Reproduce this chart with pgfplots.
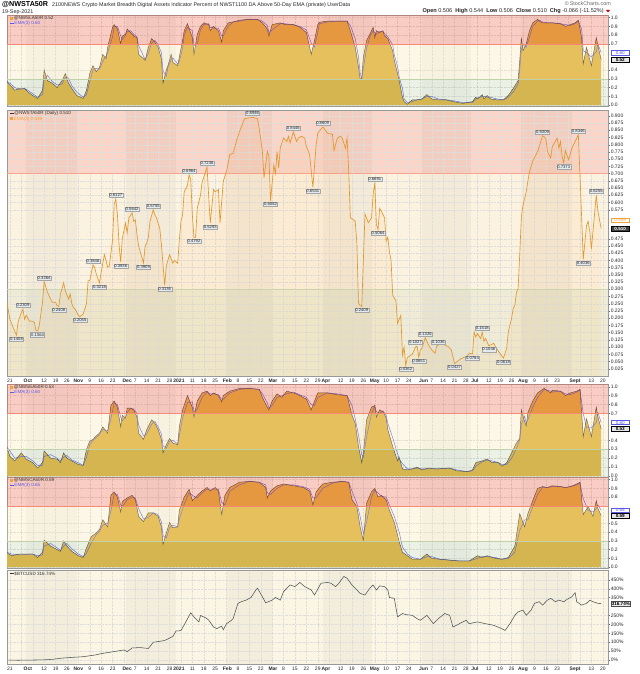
\documentclass[border=0pt]{standalone}
\usepackage{fontspec}
\setmainfont{Liberation Sans}
\usepackage{pgfplots}
\usepackage{pgfplotstable}
\pgfplotsset{compat=1.18}

\definecolor{areagold}{HTML}{E2B342}
\definecolor{emablue}{HTML}{5A5AE6}
\definecolor{linedark}{HTML}{3A3A3A}
\definecolor{zred}{HTML}{F05A3C}
\definecolor{zcream}{HTML}{F7E2A8}
\definecolor{zgreen}{HTML}{A6BE86}
\definecolor{ptop}{HTML}{FAD5C8}
\definecolor{pmid}{HTML}{FCF2E0}
\definecolor{pbot}{HTML}{EFEBD4}
\definecolor{nwsline}{HTML}{E3962C}
\definecolor{emaorange}{HTML}{F2A23A}
\definecolor{lblfill}{HTML}{E4EBEE}
\definecolor{btcbg}{HTML}{FBF5E4}
\definecolor{btcline}{HTML}{4E5552}

% ---------------- data ----------------
\pgfplotstableread{
d v e
-2 0.265 0.27
0 0.23 0.25
3 0.17 0.20
6 0.19 0.18
9 0.19 0.19
11 0.15 0.17
14 0.11 0.13
17 0.076 0.09
20 0.17 0.12
21 0.40 0.29
23 0.28 0.34
26 0.25 0.27
29 0.20 0.23
32 0.28 0.24
34 0.36 0.32
36 0.25 0.31
38 0.19 0.22
41 0.11 0.15
45 0.076 0.09
47 0.17 0.12
49 0.36 0.27
51 0.45 0.40
53 0.38 0.42
55 0.43 0.41
57 0.58 0.50
59 0.53 0.56
60 0.66 0.60
63 0.89 0.78
64 0.92 0.90
66 0.87 0.90
68 0.70 0.79
69 0.79 0.75
71 0.81 0.80
72 0.87 0.84
74 0.83 0.85
76 0.79 0.81
78 0.77 0.78
79 0.58 0.68
82 0.53 0.56
83 0.51 0.52
85 0.66 0.59
87 0.76 0.71
89 0.72 0.74
91 0.66 0.69
93 0.53 0.60
94 0.25 0.39
96 0.40 0.33
97 0.45 0.43
99 0.58 0.52
100 0.49 0.54
103 0.45 0.47
104 0.55 0.50
106 0.74 0.65
107 0.85 0.80
109 0.93 0.89
112 0.77 0.85
113 0.58 0.68
115 0.81 0.70
117 0.90 0.86
119 0.94 0.92
122 0.92 0.93
123 0.85 0.89
125 0.90 0.88
128 0.85 0.88
130 0.72 0.79
131 0.85 0.79
134 0.94 0.90
137 0.95 0.95
141 0.97 0.96
146 0.98 0.98
152 0.98 0.98
155 0.94 0.96
158 0.87 0.91
159 0.79 0.83
161 0.92 0.86
166 0.94 0.93
169 0.92 0.93
174 0.92 0.92
178 0.89 0.90
182 0.83 0.86
185 0.58 0.71
187 0.74 0.66
189 0.92 0.83
190 0.947 0.93
195 0.96 0.95
201 0.96 0.96
207 0.96 0.96
209 0.85 0.91
212 0.66 0.76
214 0.44 0.55
215 0.30 0.37
216 0.30 0.30
217 0.55 0.42
219 0.74 0.65
221 0.81 0.78
223 0.89 0.85
224 0.77 0.83
225 0.85 0.81
227 0.83 0.84
229 0.85 0.84
230 0.79 0.82
232 0.76 0.78
235 0.62 0.69
236 0.51 0.57
238 0.36 0.44
239 0.28 0.32
241 0.09 0.19
242 0.04 0.07
244 0.01 0.03
247 0.06 0.04
250 0.06 0.06
253 0.07 0.07
256 0.12 0.10
259 0.07 0.10
263 0.06 0.07
268 0.06 0.06
272 0.04 0.05
278 0.02 0.03
284 0.04 0.03
286 0.09 0.07
287 0.07 0.08
290 0.12 0.10
291 0.07 0.10
293 0.11 0.09
295 0.07 0.09
299 0.06 0.07
303 0.06 0.06
306 0.11 0.09
309 0.19 0.15
312 0.28 0.24
313 0.51 0.40
314 0.77 0.64
315 0.62 0.69
317 0.70 0.66
319 0.85 0.78
321 0.94 0.90
324 0.98 0.96
325 0.96 0.97
327 0.94 0.95
330 0.94 0.94
333 0.94 0.94
338 0.93 0.93
341 0.90 0.92
344 0.92 0.91
347 0.94 0.93
349 0.97 0.96
351 0.77 0.87
352 0.47 0.62
354 0.66 0.60
357 0.45 0.55
360 0.77 0.61
361 0.68 0.70
363 0.52 0.60
}\tabA

\pgfplotstableread{
d v
-2 0.26
0 0.196
2 0.168
4 0.1408
5 0.186
7 0.22
8 0.2309
9 0.196
10 0.21
12 0.19
13 0.19
15 0.186
16 0.157
17 0.1564
18 0.174
20 0.255
21 0.3264
23 0.29
25 0.266
26 0.255
28 0.255
29 0.243
30 0.2408
31 0.283
33 0.323
34 0.295
36 0.266
37 0.283
38 0.25
39 0.237
40 0.232
42 0.21
43 0.2055
45 0.215
47 0.25
48 0.33
49 0.33
51 0.3846
52 0.376
53 0.353
55 0.3218
56 0.359
58 0.42
59 0.40
60 0.376
61 0.38
63 0.47
64 0.593
65 0.6127
66 0.557
67 0.455
68 0.3936
69 0.477
71 0.529
72 0.495
73 0.547
75 0.5642
76 0.535
77 0.54
78 0.49
79 0.45
80 0.43
82 0.3909
83 0.45
84 0.46
85 0.48
86 0.535
88 0.5755
89 0.557
90 0.547
92 0.51
93 0.455
95 0.3136
96 0.38
98 0.42
100 0.39
101 0.40
103 0.39
104 0.47
105 0.535
106 0.557
107 0.637
109 0.66
110 0.6964
111 0.68
112 0.557
113 0.4792
114 0.48
115 0.58
117 0.625
118 0.67
121 0.7236
122 0.625
123 0.5293
125 0.645
126 0.637
128 0.645
129 0.53
131 0.674
133 0.708
135 0.766
137 0.77
139 0.811
141 0.846
144 0.89
149 0.8946
152 0.89
153 0.858
155 0.777
156 0.685
158 0.777
159 0.76
160 0.6062
162 0.73
163 0.70
164 0.777
165 0.72
166 0.79
168 0.823
170 0.811
171 0.829
172 0.806
174 0.8446
176 0.811
177 0.823
179 0.829
181 0.823
182 0.794
184 0.766
186 0.6531
188 0.80
189 0.84
192 0.8609
193 0.855
195 0.84
198 0.836
199 0.78
201 0.823
203 0.829
204 0.823
206 0.788
207 0.823
208 0.708
209 0.547
211 0.54
212 0.535
213 0.46
214 0.254
215 0.243
216 0.2409
217 0.40
218 0.56
220 0.53
222 0.547
223 0.628
224 0.6691
225 0.524
226 0.5064
227 0.58
228 0.57
230 0.547
231 0.466
232 0.48
233 0.43
234 0.40
235 0.28
237 0.26
238 0.182
240 0.21
241 0.072
242 0.10
243 0.0362
244 0.064
247 0.075
249 0.10
250 0.1027
251 0.0651
252 0.09
253 0.096
255 0.1326
257 0.107
259 0.09
261 0.079
262 0.1036
263 0.107
266 0.113
267 0.107
269 0.102
271 0.09
273 0.0427
275 0.052
277 0.06
281 0.07
282 0.079
284 0.0764
285 0.153
286 0.135
287 0.147
289 0.13
290 0.1518
291 0.12
292 0.13
294 0.1046
295 0.107
297 0.113
298 0.102
300 0.085
303 0.0618
305 0.096
306 0.153
308 0.20
309 0.234
310 0.245
311 0.29
312 0.302
313 0.42
314 0.55
315 0.59
317 0.637
318 0.674
319 0.708
321 0.743
324 0.777
325 0.794
327 0.8309
329 0.823
330 0.777
332 0.754
333 0.794
336 0.823
337 0.788
338 0.811
339 0.76
340 0.7373
341 0.78
343 0.748
345 0.788
346 0.80
348 0.823
349 0.8346
351 0.55
352 0.4036
354 0.52
355 0.535
356 0.50
357 0.44
360 0.6255
361 0.57
363 0.510
}\tabB

\pgfplotstableread{
d v e
-2 0.33 0.33
0 0.22 0.28
3 0.17 0.20
7 0.26 0.22
10 0.19 0.22
14 0.15 0.17
17 0.09 0.12
20 0.15 0.12
21 0.28 0.22
25 0.20 0.24
29 0.19 0.20
31 0.15 0.17
33 0.26 0.21
35 0.20 0.23
38 0.17 0.18
42 0.13 0.15
45 0.12 0.12
47 0.30 0.21
49 0.39 0.35
51 0.41 0.40
53 0.45 0.43
55 0.48 0.47
57 0.55 0.52
60 0.48 0.51
62 0.79 0.64
64 0.84 0.82
66 0.77 0.80
68 0.55 0.66
69 0.68 0.62
71 0.65 0.66
72 0.76 0.71
74 0.76 0.76
76 0.74 0.75
78 0.66 0.70
79 0.48 0.57
82 0.41 0.45
84 0.52 0.47
87 0.63 0.58
89 0.59 0.61
91 0.52 0.55
93 0.41 0.47
94 0.26 0.34
96 0.35 0.31
98 0.42 0.39
100 0.37 0.40
103 0.35 0.36
104 0.55 0.45
106 0.74 0.65
109 0.90 0.82
112 0.77 0.83
113 0.66 0.72
115 0.84 0.75
118 0.93 0.88
121 0.95 0.94
123 0.90 0.92
125 0.93 0.92
128 0.90 0.91
130 0.83 0.86
131 0.90 0.86
135 0.95 0.93
141 0.98 0.97
147 0.98 0.98
153 0.97 0.97
155 0.88 0.92
158 0.77 0.82
159 0.74 0.76
161 0.84 0.79
164 0.92 0.88
167 0.88 0.90
170 0.95 0.92
174 0.93 0.94
178 0.90 0.91
182 0.86 0.88
185 0.74 0.80
187 0.84 0.79
189 0.93 0.88
195 0.93 0.93
201 0.91 0.92
207 0.90 0.90
210 0.68 0.79
212 0.59 0.64
214 0.33 0.46
216 0.15 0.24
217 0.26 0.21
219 0.63 0.44
222 0.77 0.70
224 0.79 0.78
225 0.66 0.72
227 0.74 0.70
229 0.72 0.73
231 0.65 0.68
232 0.52 0.59
235 0.33 0.43
238 0.17 0.25
239 0.21 0.19
241 0.08 0.14
244 0.07 0.08
247 0.08 0.08
250 0.10 0.09
253 0.07 0.08
257 0.09 0.08
262 0.08 0.08
270 0.09 0.09
274 0.06 0.07
281 0.05 0.05
284 0.07 0.06
286 0.15 0.11
290 0.17 0.16
293 0.19 0.18
296 0.15 0.17
300 0.15 0.15
302 0.11 0.13
305 0.15 0.13
308 0.26 0.20
311 0.37 0.31
313 0.42 0.40
314 0.74 0.58
316 0.61 0.67
317 0.56 0.59
318 0.71 0.63
321 0.84 0.77
324 0.93 0.88
327 0.97 0.95
328 0.98 0.97
332 0.93 0.95
333 0.96 0.94
338 0.95 0.95
341 0.90 0.92
344 0.93 0.91
348 0.95 0.94
350 0.97 0.96
352 0.44 0.70
354 0.64 0.54
357 0.44 0.54
360 0.77 0.60
361 0.66 0.71
363 0.53 0.60
}\tabC

\pgfplotstableread{
d v e
-2 0.165 0.17
1 0.13 0.15
6 0.15 0.14
14 0.15 0.15
17 0.11 0.13
20 0.17 0.14
21 0.31 0.24
25 0.24 0.27
29 0.20 0.22
31 0.18 0.19
33 0.30 0.24
35 0.24 0.27
38 0.18 0.21
42 0.13 0.15
45 0.11 0.12
47 0.22 0.16
50 0.35 0.28
53 0.39 0.37
55 0.43 0.41
57 0.54 0.48
60 0.46 0.50
62 0.82 0.64
64 0.86 0.84
66 0.80 0.83
68 0.63 0.71
69 0.75 0.69
72 0.79 0.77
75 0.82 0.80
77 0.77 0.79
79 0.58 0.67
82 0.52 0.55
85 0.62 0.57
88 0.62 0.62
91 0.58 0.60
93 0.46 0.52
94 0.26 0.36
96 0.39 0.33
98 0.51 0.45
100 0.45 0.48
103 0.46 0.46
104 0.65 0.55
107 0.80 0.72
110 0.89 0.85
112 0.76 0.82
115 0.82 0.79
118 0.87 0.85
121 0.91 0.89
123 0.87 0.89
126 0.91 0.89
128 0.87 0.89
130 0.60 0.74
132 0.82 0.71
135 0.91 0.87
141 0.97 0.94
147 0.98 0.98
153 0.97 0.97
157 0.91 0.94
158 0.79 0.85
160 0.87 0.83
164 0.93 0.90
168 0.95 0.94
174 0.93 0.94
180 0.91 0.92
184 0.87 0.89
186 0.71 0.79
188 0.86 0.79
192 0.95 0.90
198 0.97 0.96
204 0.98 0.98
208 0.97 0.97
210 0.77 0.87
213 0.69 0.73
215 0.46 0.58
217 0.30 0.38
219 0.73 0.52
222 0.86 0.80
224 0.90 0.88
226 0.80 0.85
228 0.82 0.81
231 0.77 0.80
233 0.65 0.71
236 0.51 0.58
239 0.29 0.40
241 0.17 0.23
244 0.13 0.15
247 0.09 0.11
252 0.09 0.09
256 0.15 0.12
259 0.10 0.12
264 0.09 0.09
270 0.08 0.08
276 0.07 0.07
282 0.07 0.07
287 0.13 0.10
290 0.11 0.12
293 0.13 0.12
298 0.10 0.11
302 0.09 0.09
306 0.11 0.10
310 0.24 0.17
313 0.61 0.42
316 0.46 0.54
318 0.61 0.54
321 0.76 0.69
324 0.90 0.83
327 0.92 0.91
330 0.91 0.91
333 0.93 0.92
338 0.92 0.92
341 0.91 0.91
344 0.92 0.92
348 0.95 0.94
350 0.97 0.96
352 0.60 0.78
355 0.69 0.65
358 0.58 0.63
360 0.76 0.67
361 0.67 0.71
363 0.59 0.65
}\tabD

\pgfplotstableread{
d v
-1 0
5 -1
12 0
20 1
26 4
32 11
38 15
45 19
52 28
56 36
60 42
65 49
70 57
72 47
75 68
80 70
85 65
88 100
92 105
95 110
100 132
102 163
105 165
108 214
111 265
113 242
116 214
117 250
120 238
122 225
125 185
127 176
130 190
131 170
133 204
136 223
137 232
140 318
142 327
145 336
148 351
151 393
152 403
155 355
157 321
161 336
163 351
166 336
168 384
172 421
175 412
178 435
181 412
185 393
187 365
191 431
195 435
197 431
200 412
202 431
205 469
207 459
210 421
212 403
215 374
218 365
221 403
223 421
225 393
227 416
230 412
232 393
233 351
236 346
238 242
241 261
243 255
247 251
250 232
252 223
256 251
260 204
263 232
267 261
270 251
272 185
276 204
280 223
282 204
287 214
292 204
297 195
302 176
304 166
307 204
310 251
312 270
315 280
317 251
320 280
322 318
325 327
327 308
330 336
332 346
335 327
337 336
340 327
342 340
345 355
347 378
348 327
351 308
354 318
356 336
358 327
361 318
363 316.74
}\tabE

\tikzset{
  lblbase/.style={draw=black!35, fill=lblfill, inner sep=0.6bp, line width=0.25pt,
     font=\fontsize{4.2}{4.2}\selectfont, text=black!85},
  lblup/.style={lblbase, anchor=south, yshift=1.6bp},
  lbldn/.style={lblbase, anchor=north, yshift=-1.6bp},
  tag/.style={anchor=west, xshift=3bp, inner sep=0.6bp, line width=0.4pt,
     font=\fontsize{4.6}{4.6}\selectfont, minimum width=18bp},
  lgd/.style={anchor=north west, inner sep=0pt, font=\fontsize{4.6}{5.5}\selectfont, align=left},
}

\pgfplotsset{
 panelbase/.style={
  scale only axis, width=601bp, anchor=south west, set layers,
  xmin=-1.8, xmax=367.2,
  xtick={0,7,...,364}, xticklabels={},
  xtick style={draw=none},
  xmajorgrids, ymajorgrids,
  grid style={densely dotted, black!13, line width=0.25pt},
  axis line style={black!40, line width=0.4pt},
  ytick pos=right, yticklabel pos=right,
  ytick style={black!60, line width=0.3pt},
  tick align=outside, major tick length=1.8bp,
  ticklabel style={font=\fontsize{5}{5}\selectfont, text=black!85},
  yticklabel style={inner sep=0.8bp},
  /pgf/number format/assume math mode=true,
  clip mode=individual,
 },
 datelabels/.style={
  xticklabels={21,,,12,19,26,,9,16,23,,7,14,21,28,,11,18,25,,8,15,22,,8,15,22,29,,12,19,26,,10,17,24,,7,14,21,28,,12,19,26,,9,16,23,,,13,20},
  xticklabel style={inner sep=0.6bp},
  extra x ticks={11,42,72,103.8,133.5,161.5,194,224,254,285.5,315,347},
  extra x tick labels={Oct,Nov,Dec,2021,Feb,Mar,Apr,May,Jun,Jul,Aug,Sept},
  extra x tick style={grid=none, xticklabel style={font=\fontsize{5}{5}\selectfont\bfseries}},
 },
}

\newcommand\monthbands[3]{%
  \fill[black, opacity=#3] (axis cs:10,#1) rectangle (axis cs:41,#2);
  \fill[black, opacity=#3] (axis cs:71,#1) rectangle (axis cs:102,#2);
  \fill[black, opacity=#3] (axis cs:133,#1) rectangle (axis cs:161,#2);
  \fill[black, opacity=#3] (axis cs:192,#1) rectangle (axis cs:222,#2);
  \fill[black, opacity=#3] (axis cs:253,#1) rectangle (axis cs:283,#2);
  \fill[black, opacity=#3] (axis cs:314,#1) rectangle (axis cs:345,#2);
}

% #1 bottom, #2 height, #3 table, #4 name, #5 last value, #6 last ema, #7 yticks
\newcommand\areapanel[7]{%
\begin{axis}[panelbase, at={(7bp,#1bp)}, height=#2bp, ymin=-0.01, ymax=1.03,
   ytick={#7},
   yticklabel style={/pgf/number format/.cd,fixed,fixed zerofill,precision=1}]
  \begin{pgfonlayer}{axis background}
    \monthbands{-0.01}{1.03}{0.035}
  \end{pgfonlayer}
  \addplot[draw=none, fill=areagold] table[x=d,y=v]{#3} \closedcycle;
  \addplot[emablue, line width=0.5pt] table[x=d,y=e]{#3};
  \addplot[linedark, line width=0.45pt] table[x=d,y=v]{#3};
  \fill[zred, opacity=0.30] (axis cs:-1.8,0.7) rectangle (axis cs:367.2,1.03);
  \fill[zcream, opacity=0.28] (axis cs:-1.8,0.3) rectangle (axis cs:367.2,0.7);
  \fill[zgreen, opacity=0.22] (axis cs:-1.8,-0.01) rectangle (axis cs:367.2,0.3);
  \draw[zred!70, line width=0.4pt] (axis cs:-1.8,0.7) -- (axis cs:367.2,0.7);
  \draw[zgreen!70, line width=0.3pt] (axis cs:-1.8,0.3) -- (axis cs:367.2,0.3);
  \node[lgd] at (rel axis cs:0,1) [xshift=3bp, yshift=-1bp]
    {\textcolor{emaorange}{\rule{3bp}{3bp}}\,\textcolor{black!80}{@#4 #5}\\
     \textcolor{emablue}{\rule[1bp]{3.5bp}{0.8bp}\,EMA(3) #6}};
  \node[tag, draw=emablue, fill=white, text=emablue] at (axis cs:367.2,#6) {#6};
  \node[tag, draw=black, fill=black!10, text=black, font=\fontsize{4.6}{4.6}\selectfont\bfseries] at (axis cs:367.2,#5) {#5};
\end{axis}}

\begin{document}
\begin{tikzpicture}[x=1bp, y=1bp]

% ---------- header ----------
\node[anchor=base west, inner sep=0pt, font=\fontsize{7.2}{7.2}\selectfont\bfseries] at (2,667)
  {@NWSTA50R};
\node[anchor=base west, inner sep=0pt, font=\fontsize{5.4}{5.4}\selectfont, text=black!85] at (52,667)
  {2100NEWS Crypto Market Breadth Digital Assets Indicator Percent of NWST1100 DA Above 50-Day EMA (private) UserData};
\node[anchor=base west, inner sep=0pt, font=\fontsize{5.4}{5.4}\selectfont, text=black!85] at (2,660.5)
  {19-Sep-2021};
\node[anchor=base east, inner sep=0pt, font=\fontsize{5.4}{5.4}\selectfont, text=black!60] at (611,668)
  {\textcopyright\,StockCharts.com};
\node[anchor=base east, inner sep=0pt, font=\fontsize{5.6}{5.6}\selectfont, text=black!85] at (604,661)
  {\textbf{Open} 0.506 \ \textbf{High} 0.544 \ \textbf{Low} 0.506 \ \textbf{Close} 0.510 \ \textbf{Chg} -0.066 (-11.52\%)};
\fill[red!80!black] (606,664) -- (610,664) -- (608,661.5) -- cycle;

% ---------- panel 1 ----------
\areapanel{568}{91}{\tabA}{NWSLA50R}{0.52}{0.60}{0,0.1,0.2,0.3,0.4,0.7,0.8,0.9,1.0}

% ---------- panel 2 ----------
\begin{axis}[panelbase, datelabels, at={(7bp,298bp)}, height=266bp, ymin=0, ymax=0.92,
  ytick={0.025,0.05,0.075,0.1,0.125,0.15,0.175,0.2,0.225,0.25,0.275,0.3,0.325,0.35,0.375,0.4,0.425,0.45,0.475,0.575,0.6,0.625,0.65,0.675,0.7,0.725,0.75,0.775,0.8,0.825,0.85,0.875,0.9},
  yticklabel style={/pgf/number format/.cd,fixed,fixed zerofill,precision=3}]
  \begin{pgfonlayer}{axis background}
    \fill[pbot] (axis cs:-1.8,0) rectangle (axis cs:367.2,0.3);
    \fill[pmid] (axis cs:-1.8,0.3) rectangle (axis cs:367.2,0.7);
    \fill[ptop] (axis cs:-1.8,0.7) rectangle (axis cs:367.2,0.92);
    \monthbands{0}{0.92}{0.03}
  \end{pgfonlayer}
  \draw[zred!55, line width=0.5pt] (axis cs:-1.8,0.7) -- (axis cs:367.2,0.7);
  \draw[zgreen!60, line width=0.4pt] (axis cs:-1.8,0.3) -- (axis cs:367.2,0.3);
  \addplot[draw=none, fill=emaorange, fill opacity=0.08] table[x=d,y=v]{\tabB} \closedcycle;
  \addplot[nwsline, line width=0.65pt] table[x=d,y=v]{\tabB};
  % peak labels
  \node[lblup] at (axis cs:8,0.2309) {0.2309};
  \node[lblup] at (axis cs:21,0.3264) {0.3264};
  \node[lblup] at (axis cs:51,0.3846) {0.3846};
  \node[lblup] at (axis cs:65,0.6127) {0.6127};
  \node[lblup] at (axis cs:75,0.5642) {0.5642};
  \node[lblup] at (axis cs:88,0.5755) {0.5755};
  \node[lblup] at (axis cs:110,0.6964) {0.6964};
  \node[lblup] at (axis cs:121,0.7236) {0.7236};
  \node[lblup] at (axis cs:149,0.8946) {0.8946};
  \node[lblup] at (axis cs:174,0.8446) {0.8446};
  \node[lblup] at (axis cs:192,0.8609) {0.8609};
  \node[lblup] at (axis cs:224,0.6691) {0.6691};
  \node[lblup] at (axis cs:249,0.1027) {0.1027};
  \node[lblup] at (axis cs:255,0.1326) {0.1326};
  \node[lblup] at (axis cs:263,0.1036) {0.1036};
  \node[lblup] at (axis cs:290,0.1518) {0.1518};
  \node[lblup] at (axis cs:327,0.8309) {0.8309};
  \node[lblup] at (axis cs:349,0.8346) {0.8346};
  \node[lblup] at (axis cs:360,0.6255) {0.6255};
  % trough labels
  \node[lbldn] at (axis cs:4,0.1408) {0.1408};
  \node[lbldn] at (axis cs:17,0.1564) {0.1564};
  \node[lbldn] at (axis cs:30,0.2408) {0.2408};
  \node[lbldn] at (axis cs:43,0.2055) {0.2055};
  \node[lbldn] at (axis cs:55,0.3218) {0.3218};
  \node[lbldn] at (axis cs:68,0.3936) {0.3936};
  \node[lbldn] at (axis cs:82,0.3909) {0.3909};
  \node[lbldn] at (axis cs:95,0.3136) {0.3136};
  \node[lbldn] at (axis cs:113,0.4792) {0.4792};
  \node[lbldn] at (axis cs:123,0.5293) {0.5293};
  \node[lbldn] at (axis cs:160,0.6062) {0.6062};
  \node[lbldn] at (axis cs:186,0.6531) {0.6531};
  \node[lbldn] at (axis cs:216,0.2409) {0.2409};
  \node[lbldn] at (axis cs:226,0.5064) {0.5064};
  \node[lbldn] at (axis cs:243,0.0362) {0.0362};
  \node[lbldn] at (axis cs:251,0.0651) {0.0651};
  \node[lbldn] at (axis cs:273,0.0427) {0.0427};
  \node[lbldn] at (axis cs:284,0.0764) {0.0764};
  \node[lbldn] at (axis cs:294,0.1046) {0.1046};
  \node[lbldn] at (axis cs:303,0.0618) {0.0618};
  \node[lbldn] at (axis cs:340,0.7373) {0.7373};
  \node[lbldn] at (axis cs:352,0.4036) {0.4036};
  % legend
  \node[lgd] at (rel axis cs:0,1) [xshift=3bp, yshift=-1.2bp]
    {\textcolor{black!80}{\rule[1bp]{3.5bp}{0.8bp}\,@NWSTA50R (Daily) 0.510}\\
     \textcolor{emaorange}{\rule{3bp}{3bp}\,EMA(3) 0.539}};
  \node[tag, draw=emaorange, fill=white, text=emaorange] at (axis cs:367.2,0.539) {0.539};
  \node[tag, draw=black, fill=black!75, text=white, font=\fontsize{4.6}{4.6}\selectfont\bfseries] at (axis cs:367.2,0.510) {0.510};
\end{axis}

% ---------- panel 3 ----------
\areapanel{197}{93}{\tabC}{NWSEA50R}{0.53}{0.60}{0,0.1,0.2,0.3,0.4,0.7,0.8,0.9,1.0}

% ---------- panel 4 ----------
\areapanel{106}{91}{\tabD}{NWSCA50R}{0.59}{0.65}{0,0.1,0.2,0.3,0.4,0.5,0.8,0.9,1.0}

% ---------- panel 5 ----------
\begin{axis}[panelbase, datelabels, at={(7bp,10bp)}, height=94bp, ymin=-22, ymax=505,
  ytick={0,50,100,150,200,250,350,400,450},
  yticklabel={\pgfmathprintnumber{\tick}\%}]
  \begin{pgfonlayer}{axis background}
    \fill[btcbg] (axis cs:-1.8,-22) rectangle (axis cs:367.2,505);
    \monthbands{-22}{505}{0.03}
  \end{pgfonlayer}
  \addplot[btcline, line width=0.55pt] table[x=d,y=v]{\tabE};
  \node[lgd] at (rel axis cs:0,1) [xshift=3bp, yshift=-1.5bp]
    {\textcolor{black!80}{\rule[1bp]{3.5bp}{0.8bp}\,\$BTCUSD 316.74\%}};
  \node[tag, draw=black!70, fill=black!8, text=black, font=\fontsize{4.6}{4.6}\selectfont\bfseries] at (axis cs:367.2,316.74) {316.74\%};
\end{axis}
\pgfresetboundingbox
\path[use as bounding box] (0,0) rectangle (640,674);
\end{tikzpicture}
\end{document}
